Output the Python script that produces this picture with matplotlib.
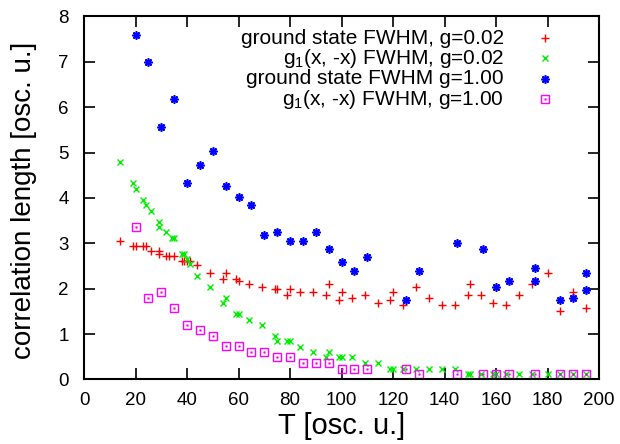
import matplotlib
matplotlib.use("Agg")
import matplotlib.pyplot as plt

plt.rcParams['font.family'] = ['Liberation Sans', 'DejaVu Sans']
plt.rcParams['mathtext.fontset'] = 'custom'
plt.rcParams['mathtext.rm'] = 'Liberation Sans'
plt.rcParams['mathtext.it'] = 'Liberation Sans'

# ground state FWHM, g=0.02
t_gs002 = [14, 19, 20, 23, 24, 26, 29, 29, 32, 33, 35, 38, 39, 40, 41, 44, 49, 54, 55,
           59, 60, 64, 69, 74, 75, 79, 80, 84, 89, 94, 95, 99, 100, 104, 109, 114, 119,
           120, 124, 129, 134, 139, 144, 149, 150, 154, 159, 164, 169, 174, 180, 185, 190, 195]
y_gs002 = [3.06, 2.94, 2.94, 2.94, 2.94, 2.82, 2.82, 2.76, 2.71, 2.71, 2.71, 2.60, 2.60, 2.60,
           2.60, 2.52, 2.34, 2.22, 2.34, 2.22, 2.16, 2.10, 2.04, 1.99, 1.99, 1.86, 1.99, 1.93,
           1.93, 1.86, 2.10, 1.75, 1.93, 1.80, 1.86, 1.68, 1.74, 1.93, 1.63, 2.04, 1.80, 1.63,
           1.63, 1.86, 2.10, 1.86, 1.68, 1.63, 1.86, 2.10, 2.35, 1.51, 1.92, 1.57]

# g1(x,-x) FWHM, g=0.02
t_g1002 = [14, 19, 20, 23, 24, 26, 29, 29, 32, 34, 35, 38, 39, 40, 41, 44, 49, 54, 55, 59,
           60, 64, 69, 74, 75, 79, 80, 84, 89, 94, 95, 99, 100, 104, 109, 114, 119, 120,
           124, 129, 134, 139, 144, 149, 150, 154, 159, 160, 164, 169, 174, 180, 185, 190, 195]
y_g1002 = [4.79, 4.32, 4.20, 3.96, 3.84, 3.72, 3.47, 3.37, 3.24, 3.12, 3.12, 2.77, 2.77, 2.66,
           2.54, 2.28, 2.04, 1.68, 1.80, 1.45, 1.45, 1.32, 1.21, 0.96, 0.84, 0.84, 0.84, 0.72,
           0.60, 0.49, 0.60, 0.49, 0.49, 0.49, 0.37, 0.37, 0.24, 0.24, 0.24, 0.24, 0.24, 0.24,
           0.24, 0.13, 0.13, 0.13, 0.13, 0.13, 0.13, 0.13, 0.13, 0.13, 0.13, 0.13, 0.13]

# ground state FWHM, g=1.00
t_gs100 = [20, 25, 30, 35, 40, 45, 50, 55, 60, 65, 70, 75, 80, 85, 90, 95, 100, 105, 110,
           125, 130, 145, 155, 160, 165, 175, 175, 185, 190, 195, 195]
y_gs100 = [7.60, 7.00, 5.57, 6.18, 4.32, 4.73, 5.04, 4.26, 4.02, 3.84, 3.18, 3.24, 3.06, 3.06,
           3.24, 2.88, 2.58, 2.40, 2.70, 1.74, 2.40, 3.00, 2.88, 2.04, 2.16, 2.46, 2.16, 1.74,
           1.80, 2.34, 1.98]

# g1(x,-x) FWHM, g=1.00
t_g1100 = [20, 25, 30, 35, 40, 45, 50, 55, 60, 65, 70, 75, 80, 85, 90, 95, 100, 105, 110,
           125, 130, 145, 155, 160, 165, 175, 185, 190, 195]
y_g1100 = [3.35, 1.80, 1.92, 1.57, 1.20, 1.08, 0.96, 0.73, 0.73, 0.60, 0.60, 0.49, 0.49, 0.36,
           0.36, 0.36, 0.24, 0.24, 0.24, 0.24, 0.13, 0.13, 0.13, 0.13, 0.13, 0.13, 0.13, 0.13, 0.13]

labels = ["ground state FWHM, g=0.02",
          "g$_1$(x, -x) FWHM, g=0.02",
          "ground state FWHM g=1.00",
          "g$_1$(x, -x) FWHM, g=1.00"]

RED, GREEN, BLUE, MAG = '#ff0000', '#00ee00', '#0000ff', '#ff00ff'

fig = plt.figure(figsize=(6.2, 4.44), dpi=100)
ax = fig.add_axes([84/620, 1 - 379.4/444, (599-84)/620, (379.4-16.5)/444])

def draw(axis, x, y, kind, transform=None):
    kw = {} if transform is None else {'transform': transform, 'clip_on': False}
    if kind == 0:
        axis.plot(x, y, ls='none', marker='+', ms=6, mew=1.0, color=RED, **kw)
    elif kind == 1:
        axis.plot(x, y, ls='none', marker='x', ms=5, mew=1.0, color=GREEN, **kw)
    elif kind == 2:
        axis.plot(x, y, ls='none', marker=(8, 2, 0), ms=6, mew=1.2, color=BLUE, **kw)
    else:
        axis.plot(x, y, ls='none', marker='s', ms=5.5, mew=1.0, mfc='none', mec=MAG, **kw)
        axis.plot(x, y, ls='none', marker='s', ms=1, mew=0.5, color=MAG, **kw)

draw(ax, t_gs002, y_gs002, 0)
draw(ax, t_g1002, y_g1002, 1)
draw(ax, t_gs100, y_gs100, 2)
draw(ax, t_g1100, y_g1100, 3)

ax.set_xlim(0, 200)
ax.set_ylim(0, 8)
ax.set_xticks(range(0, 201, 20))
ax.set_yticks(range(0, 9, 1))
ax.tick_params(direction='in', length=8, width=1.2, top=True, right=True,
               labelsize=13.5, colors='black')
ax.tick_params(axis='x', pad=9)
ax.tick_params(axis='y', pad=11)
for s in ax.spines.values():
    s.set_linewidth(1.5)

ax.set_xlabel("T [osc. u.]", fontsize=21, labelpad=2)
fig.text(24/620, 1 - 200/444, "correlation length [osc. u.]", rotation=90,
         ha='center', va='center', fontsize=20)

# manual legend (text right-aligned, marker to the right)
rows_y = [38.3, 58.3, 79.0, 99.3]
for i, (lab, ry) in enumerate(zip(labels, rows_y)):
    fy = 1 - ry / 444
    fig.text(504/620, fy, lab, ha='right', va='center', fontsize=15)
    draw(ax, [545/620], [fy], i, transform=fig.transFigure)

fig.savefig("out.png", dpi=100)
